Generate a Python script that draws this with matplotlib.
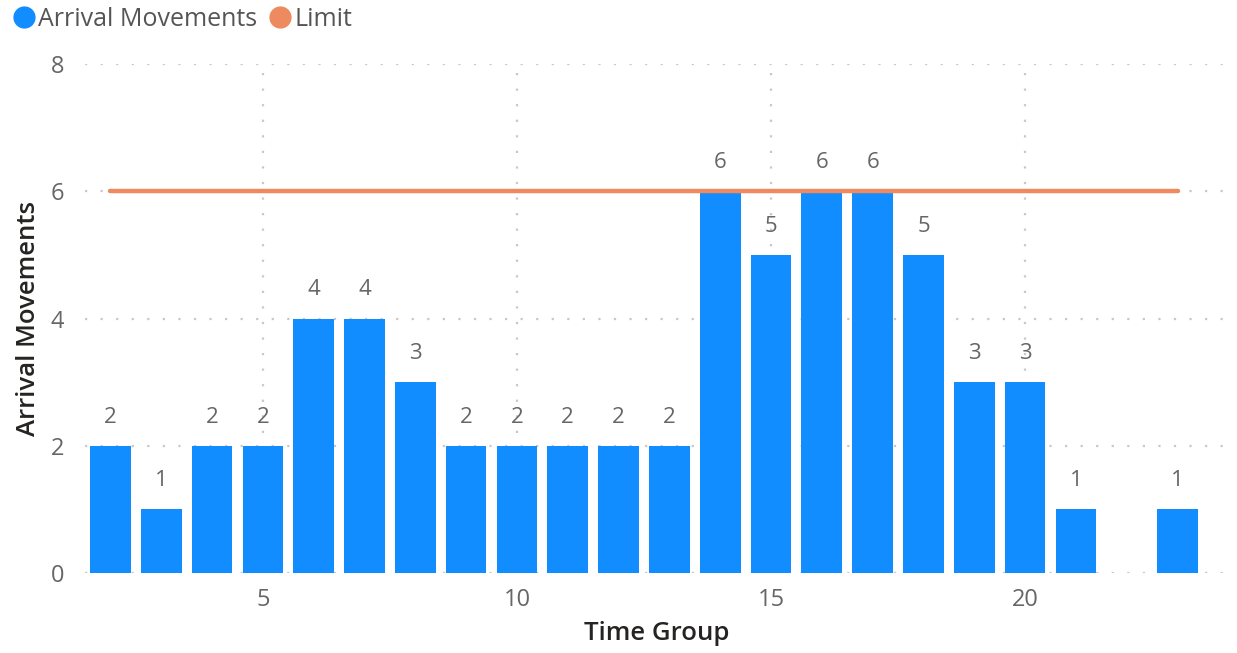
import matplotlib
matplotlib.use("Agg")
from matplotlib import pyplot as plt
from matplotlib.lines import Line2D

time_group = [2, 3, 4, 5, 6, 7, 8, 9, 10, 11, 12, 13, 14, 15, 16, 17, 18, 19, 20, 21, 23]
arrivals = [2, 1, 2, 2, 4, 4, 3, 2, 2, 2, 2, 2, 6, 5, 6, 6, 5, 3, 3, 1, 1]
limit_x = [2, 23]
limit_y = [6, 6]

blue = "#118DFF"
orange = "#EE8A5F"
grey = "#666666"

plt.rcParams["font.family"] = ["Open Sans", "DejaVu Sans"]

fig = plt.figure(figsize=(12.37, 6.53), dpi=100)
ax = fig.add_axes([0.0687, 0.1225, 0.9243, 0.7795])

ax.bar(time_group, arrivals, width=0.8, color=blue, zorder=2)
ax.plot(limit_x, limit_y, color=orange, linewidth=3.2, solid_capstyle="round", zorder=3)

for x, v in zip(time_group, arrivals):
    ax.annotate(str(v), (x, v), xytext=(0, 13), textcoords="offset points",
                ha="center", va="bottom", fontsize=16, color=grey)

ax.set_xlim(1.5, 24)
ax.set_ylim(0, 8)
ax.set_xticks([5, 10, 15, 20])
ax.set_yticks([0, 2, 4, 6, 8])
ax.tick_params(length=0, labelsize=17, labelcolor=grey)
ax.tick_params(axis="y", pad=15)
ax.tick_params(axis="x", pad=11)
for s in ax.spines.values():
    s.set_visible(False)
ax.grid(True, color="#C8C8C8", linestyle=(0, (1, 6)), linewidth=1.6, zorder=0)
ax.set_axisbelow(True)

ax.set_xlabel("Time Group", fontsize=18.5, color="#252423", fontweight="semibold", labelpad=6)
ax.set_ylabel("Arrival Movements", fontsize=18.5, color="#252423", fontweight="semibold", labelpad=7)

handles = [
    Line2D([], [], marker="o", linestyle="", markersize=15, color=blue, label="Arrival Movements"),
    Line2D([], [], marker="o", linestyle="", markersize=15, color=orange, label="Limit"),
]
leg = fig.legend(handles=handles, loc="upper left", bbox_to_anchor=(-0.004, 1.012), ncol=2,
                 frameon=False, fontsize=18, handletextpad=0.0, columnspacing=0.4,
                 borderaxespad=0.2, handlelength=1.1)
for t in leg.get_texts():
    t.set_color("#555555")

fig.savefig("out.png", dpi=100)
